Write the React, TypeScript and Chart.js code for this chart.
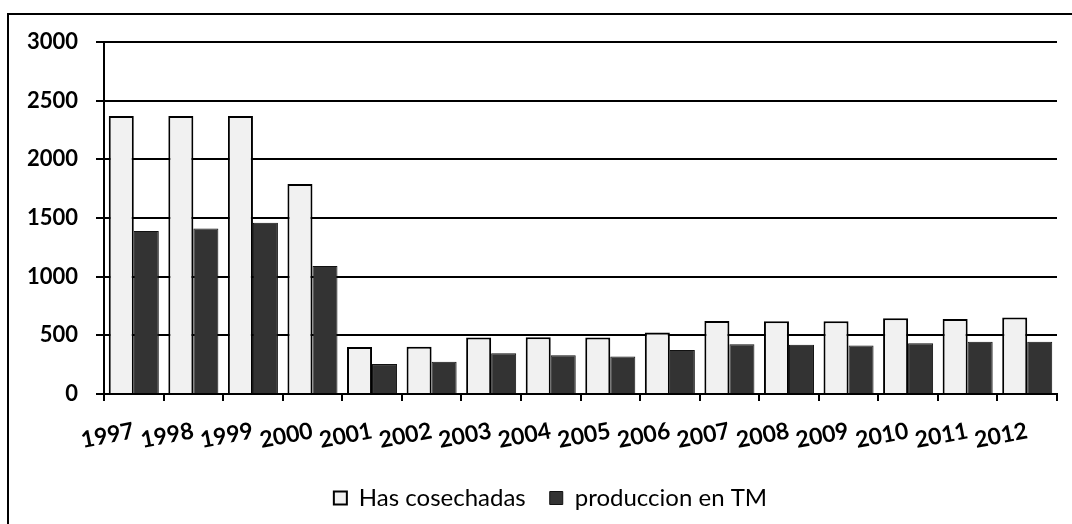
import React, { useEffect, useRef } from "react";
import { Chart, registerables } from "chart.js";

Chart.register(...registerables);

const categories = ["1997", "1998", "1999", "2000", "2001", "2002", "2003", "2004", "2005", "2006", "2007", "2008", "2009", "2010", "2011", "2012"];
const hasCosechadas = [2370, 2370, 2370, 1790, 400, 402, 482, 484, 482, 524, 623, 620, 620, 646, 640, 651];
const produccionTM = [1390, 1410, 1460, 1090, 255, 275, 348, 331, 320, 374, 425, 419, 413, 433, 445, 445];
const yTicks = [0, 500, 1000, 1500, 2000, 2500, 3000];

const FONT = "Lato, 'Noto Sans', sans-serif";

const legendShift = {
  id: "legendShift",
  afterLayout(chart: any) {
    if (chart.legend) {
      chart.legend.left += 10;
      chart.legend.right += 10;
    }
  },
};

export default function App() {
  const ref = useRef<HTMLCanvasElement | null>(null);

  useEffect(() => {
    if (!ref.current) return;
    const chart = new Chart(ref.current, {
      type: "bar",
      data: {
        labels: categories,
        datasets: [
          {
            label: "Has cosechadas",
            data: hasCosechadas,
            backgroundColor: "#f1f1f1",
            borderColor: "#000000",
            borderWidth: 2,
            categoryPercentage: 0.84,
            barPercentage: 1.0,
          },
          {
            label: "produccion en TM",
            data: produccionTM,
            backgroundColor: "#333333",
            borderColor: "#111111",
            borderWidth: 1,
            categoryPercentage: 0.84,
            barPercentage: 1.0,
          },
        ],
      },
      plugins: [legendShift],
      options: {
        responsive: false,
        animation: false,
        layout: { padding: { left: 24, right: 15, top: 42, bottom: 4 } },
        plugins: {
          tooltip: { enabled: false },
          legend: {
            position: "bottom",
            labels: {
              color: "#000",
              font: { family: FONT, size: 24 },
              boxWidth: 13,
              boxHeight: 13,
              padding: 24,
            },
          },
        },
        scales: {
          x: {
            offset: true,
            grid: {
              offset: true,
              drawOnChartArea: false,
              drawTicks: true,
              tickLength: 7,
              color: "#000",
              lineWidth: 2,
            },
            border: { color: "#000", width: 2 },
            ticks: {
              color: "#000",
              font: { family: FONT, size: 23, weight: "bold" },
              minRotation: 11,
              maxRotation: 11,
              autoSkip: false,
              padding: 16,
            },
            afterFit: (axis: any) => {
              axis.height = 68;
            },
          },
          y: {
            min: 0,
            max: 3000,
            afterBuildTicks: (axis: any) => {
              axis.ticks = yTicks.map((v) => ({ value: v }));
            },
            grid: {
              color: "#000",
              lineWidth: 2,
              drawTicks: true,
              tickLength: 8,
            },
            border: { color: "#000", width: 2 },
            ticks: {
              color: "#000",
              font: { family: FONT, size: 22, weight: "bold" },
              padding: 18,
              callback: (v: any) => String(v),
            },
            afterFit: (axis: any) => {
              axis.width = 80;
            },
          },
        },
      },
    });
    return () => chart.destroy();
  }, []);

  return (
    <div style={{ position: "fixed", left: 0, top: 0, width: 1072, height: 524, background: "#fff" }}>
      <div
        style={{
          position: "absolute",
          left: 7,
          top: 13,
          width: 1080,
          height: 540,
          borderLeft: "2px solid #000",
          borderTop: "2px solid #000",
        }}
      />
      <canvas ref={ref} width={1072} height={524} style={{ position: "absolute", left: 0, top: 0 }} />
    </div>
  );
}
